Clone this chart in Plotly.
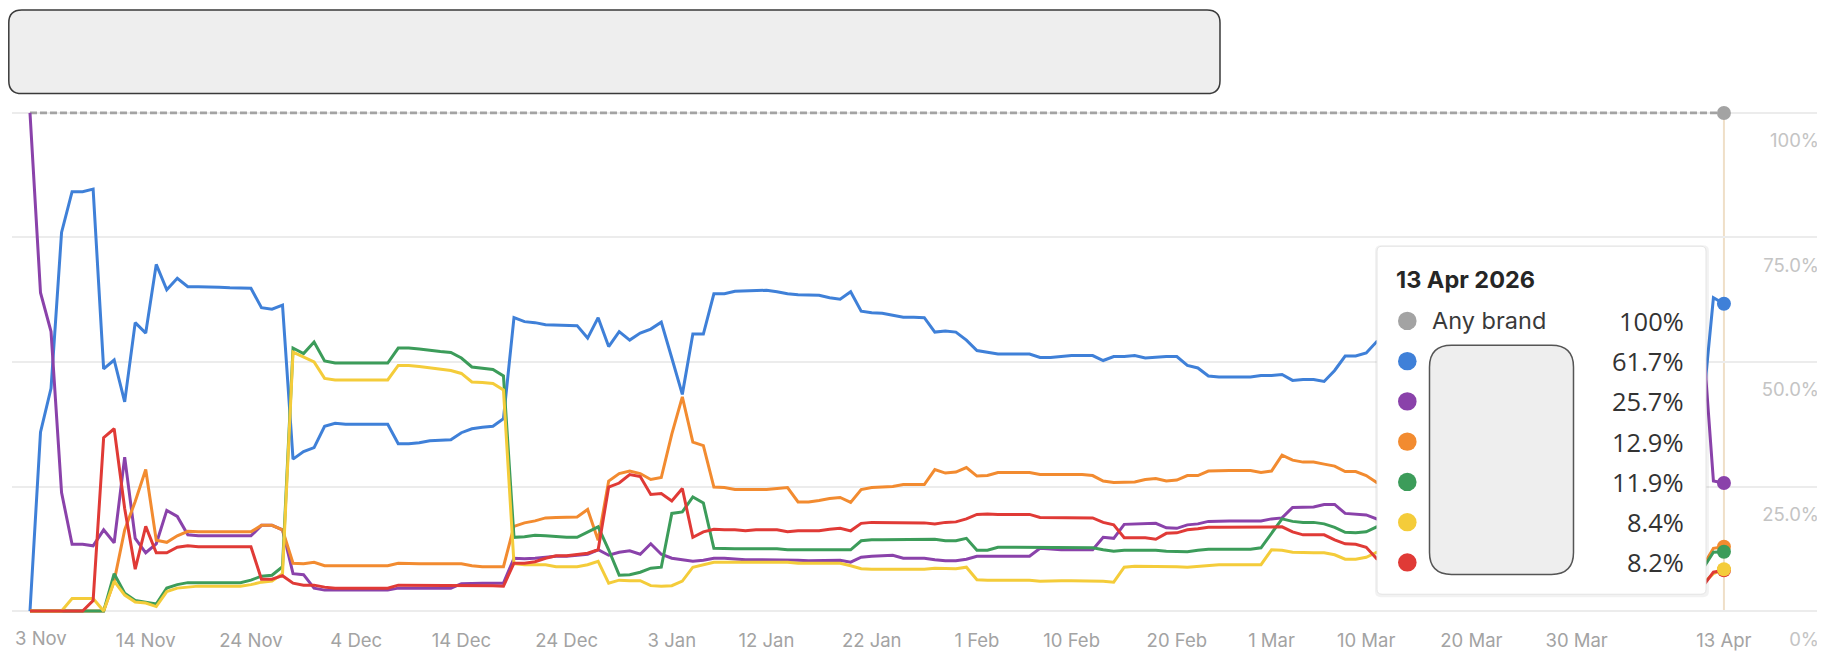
import plotly.graph_objects as go
import pandas as pd

# ---------------- data ----------------
START = "2025-11-03"
DAYS = list(range(0, 129)) + [135, 145, 155, 159, 160, 161]

BLUE = [0, 35.9, 44.7, 76.0, 84.2, 84.2, 84.7, 48.6, 50.4, 42.0,
        57.9, 55.8, 69.6, 64.5, 66.8, 65.1, 65.1, 65.1, 65.0, 64.9,
        64.8, 64.8, 60.9, 60.6, 61.4, 30.5, 32.0, 32.8, 37.1, 37.7,
        37.5, 37.5, 37.5, 37.5, 37.5, 33.6, 33.6, 33.8, 34.2, 34.3,
        34.4, 35.8, 36.6, 36.9, 37.1, 38.6, 58.9, 58.1, 57.9, 57.5,
        57.4, 57.3, 57.3, 54.8, 58.9, 53.1, 56.1, 54.4, 55.8, 56.6,
        58.0, 50.8, 43.5, 55.6, 55.6, 63.7, 63.7, 64.2, 64.3, 64.4,
        64.4, 64.1, 63.7, 63.5, 63.5, 63.4, 62.9, 62.6, 64.1, 60.2,
        59.9, 59.8, 59.4, 59.0, 59.0, 58.9, 56.0, 56.2, 56.0, 54.4,
        52.3, 52.0, 51.6, 51.6, 51.6, 51.6, 50.9, 50.9, 51.1, 51.3,
        51.3, 51.3, 50.3, 51.1, 51.1, 51.3, 50.8, 51.0, 51.1, 51.1,
        49.3, 48.8, 47.2, 47.0, 47.0, 47.0, 47.0, 47.3, 47.3, 47.5,
        46.3, 46.5, 46.5, 46.1, 48.3, 51.2, 51.2, 51.8, 54.1,
        56.0, 57.0, 55.0, 41.0, 62.9, 61.7]

PURPLE = [100, 63.9, 56.1, 23.8, 13.4, 13.4, 13.1, 16.3, 13.7, 30.9,
          14.6, 11.7, 13.5, 20.2, 19.0, 15.3, 15.1, 15.1, 15.1, 15.1,
          15.1, 15.1, 17.2, 17.2, 16.3, 7.5, 7.3, 4.6, 4.2, 4.2,
          4.2, 4.2, 4.2, 4.2, 4.2, 4.6, 4.6, 4.6, 4.6, 4.6,
          4.6, 5.5, 5.6, 5.6, 5.6, 5.6, 10.6, 10.5, 10.6, 10.8,
          11.0, 11.0, 11.2, 11.4, 12.3, 11.2, 11.8, 12.1, 11.4, 13.5,
          11.4, 10.6, 10.3, 10.0, 10.2, 10.6, 10.6, 10.4, 10.3, 10.3,
          10.3, 10.3, 10.3, 10.2, 10.1, 10.1, 10.1, 10.2, 9.8, 10.8,
          11.0, 11.1, 11.2, 10.6, 10.6, 10.6, 10.3, 10.1, 10.1, 10.4,
          11.0, 11.0, 11.0, 11.0, 11.0, 11.0, 12.6, 12.4, 12.3, 12.3,
          12.3, 12.3, 14.8, 14.6, 17.4, 17.5, 17.6, 17.6, 16.7, 16.6,
          17.3, 17.5, 18.0, 18.1, 18.1, 18.1, 18.1, 18.1, 18.5, 18.7,
          20.8, 20.8, 20.9, 21.4, 21.4, 19.6, 19.5, 19.3, 18.5,
          19.0, 20.0, 22.0, 55.0, 26.1, 25.7]

ORANGE = [0, 0, 0, 0, 0, 0, 0, 0, 6.0, 16.3,
          22.0, 28.4, 14.2, 13.8, 15.1, 16.0, 15.9, 15.9, 15.9, 15.9,
          15.9, 15.9, 17.2, 17.2, 16.3, 9.6, 9.5, 9.8, 9.1, 9.1,
          9.1, 9.1, 9.1, 9.1, 9.1, 9.6, 9.5, 9.5, 9.5, 9.5,
          9.5, 9.5, 9.1, 8.9, 8.9, 8.9, 17.0, 17.7, 18.1, 18.7,
          18.8, 18.8, 18.9, 20.4, 14.2, 26.1, 27.6, 28.1, 27.6, 26.4,
          26.8, 35.5, 43.0, 33.9, 33.2, 24.9, 24.8, 24.4, 24.4, 24.4,
          24.4, 24.6, 24.8, 21.9, 21.9, 22.2, 22.6, 22.8, 21.8, 24.4,
          24.8, 24.9, 25.0, 25.4, 25.4, 25.4, 28.4, 27.7, 27.9, 28.8,
          27.1, 27.2, 27.8, 27.8, 27.8, 27.8, 27.4, 27.4, 27.4, 27.4,
          27.4, 27.2, 26.1, 25.8, 25.8, 25.9, 26.4, 26.6, 26.1, 26.3,
          27.2, 27.2, 28.1, 28.2, 28.2, 28.2, 28.2, 27.8, 28.1, 31.3,
          30.3, 29.9, 29.9, 29.5, 29.1, 28.0, 28.0, 27.2, 25.8,
          24.0, 22.0, 18.0, 9.0, 12.6, 12.9]

GREEN = [0, 0, 0, 0, 0, 0, 0, 0, 7.5, 3.6,
         2.1, 1.8, 1.4, 4.6, 5.3, 5.7, 5.7, 5.7, 5.7, 5.7,
         5.7, 6.2, 7.0, 7.2, 8.9, 52.8, 51.7, 54.0, 50.2, 49.8,
         49.8, 49.8, 49.8, 49.8, 49.8, 52.8, 52.8, 52.6, 52.3, 52.1,
         51.9, 50.8, 49.0, 48.8, 48.5, 47.2, 14.8, 14.9, 15.2, 15.1,
         14.9, 14.8, 14.8, 15.9, 16.9, 12.3, 7.2, 7.3, 7.8, 8.6,
         8.8, 19.6, 19.9, 22.9, 21.7, 12.6, 12.5, 12.5, 12.5, 12.5,
         12.5, 12.5, 12.3, 12.3, 12.3, 12.3, 12.3, 12.3, 12.3, 14.1,
         14.3, 14.3, 14.3, 14.3, 14.3, 14.3, 14.4, 14.1, 14.1, 14.6,
         12.2, 12.2, 12.8, 12.8, 12.8, 12.8, 12.8, 12.7, 12.7, 12.7,
         12.7, 12.7, 12.3, 12.0, 12.2, 12.2, 12.2, 12.2, 12.0, 12.0,
         11.9, 12.2, 12.4, 12.4, 12.4, 12.4, 12.4, 12.7, 15.5, 18.5,
         18.0, 17.8, 17.8, 17.5, 16.8, 15.8, 15.7, 15.9, 16.9,
         15.0, 14.0, 12.0, 8.5, 11.8, 11.9]

YELLOW = [0, 0, 0, 0, 2.5, 2.5, 2.5, 0, 6.0, 3.2,
          1.8, 1.6, 0.9, 3.9, 4.6, 4.8, 5.0, 5.0, 5.0, 5.0,
          5.0, 5.3, 5.8, 6.0, 7.5, 52.0, 51.0, 50.0, 46.7, 46.4,
          46.4, 46.4, 46.4, 46.4, 46.4, 49.3, 49.3, 49.1, 48.8, 48.5,
          48.3, 47.7, 46.0, 45.9, 45.7, 44.4, 9.5, 9.3, 9.3, 9.3,
          8.9, 8.9, 8.9, 9.3, 10.0, 5.6, 6.2, 6.1, 6.1, 5.1,
          5.0, 5.1, 6.0, 8.8, 9.3, 9.8, 9.8, 9.8, 9.8, 9.8,
          9.8, 9.8, 9.8, 9.6, 9.6, 9.6, 9.6, 9.6, 9.1, 8.5,
          8.4, 8.4, 8.4, 8.4, 8.4, 8.4, 8.6, 8.5, 8.5, 8.8,
          6.3, 6.2, 6.2, 6.2, 6.2, 6.2, 6.0, 6.1, 6.1, 6.1,
          6.1, 6.1, 6.0, 5.8, 8.8, 9.0, 9.0, 9.0, 9.0, 8.9,
          8.8, 9.0, 9.2, 9.3, 9.3, 9.3, 9.3, 9.3, 12.3, 12.2,
          11.8, 11.7, 11.7, 11.7, 11.3, 10.4, 10.4, 10.8, 11.8,
          10.0, 9.5, 8.0, 5.5, 7.5, 8.4]

RED = [0, 0, 0, 0, 0, 0, 2.1, 34.8, 36.6, 20.6,
       8.4, 17.0, 11.7, 11.7, 12.8, 13.1, 12.9, 12.9, 12.9, 12.9,
       12.9, 12.9, 6.4, 6.4, 7.1, 5.6, 5.2, 5.2, 4.8, 4.6,
       4.6, 4.6, 4.6, 4.6, 4.6, 5.2, 5.2, 5.2, 5.2, 5.2,
       5.2, 5.2, 5.1, 5.1, 5.1, 5.0, 9.6, 9.6, 9.9, 10.6,
       11.1, 11.1, 11.3, 11.6, 12.3, 24.9, 25.7, 27.4, 27.0, 23.4,
       23.6, 22.1, 24.6, 14.8, 15.9, 16.4, 16.3, 16.3, 16.1, 16.3,
       16.3, 16.3, 15.9, 16.1, 16.1, 16.1, 16.4, 16.6, 16.1, 17.6,
       17.8, 17.8, 17.7, 17.7, 17.7, 17.7, 17.5, 17.8, 17.9, 18.5,
       19.4, 19.5, 19.4, 19.4, 19.4, 19.4, 18.8, 18.8, 18.8, 18.8,
       18.8, 18.7, 17.8, 17.3, 14.7, 14.7, 14.7, 14.4, 15.6, 15.7,
       16.3, 16.5, 16.8, 16.8, 16.8, 16.8, 16.8, 16.8, 16.9, 16.9,
       15.9, 15.3, 15.3, 15.3, 14.3, 13.5, 13.4, 12.8, 10.5,
       9.5, 9.0, 8.0, 5.0, 7.8, 8.2]

ANY_DAYS = [0, 161]
ANY_VALUES = [100, 100]

SERIES_NAMES = ["Brand 1", "Brand 2", "Brand 3", "Brand 4", "Brand 5", "Brand 6"]
SERIES_VALUES = [BLUE, PURPLE, ORANGE, GREEN, YELLOW, RED]
SERIES_COLORS = ["#3f80d8", "#8a42aa", "#f28b30", "#3c9c5a", "#f4cc3a", "#e03a36"]
MARKER_ORDER = [0, 1, 2, 3, 5, 4]   # yellow end dot drawn over red, as in the source
ANY_NAME = "Any brand"
ANY_COLOR = "#a3a3a3"

X_TICK_DATES = ["2025-11-03", "2025-11-14", "2025-11-24", "2025-12-04", "2025-12-14",
                "2025-12-24", "2026-01-03", "2026-01-12", "2026-01-22", "2026-02-01",
                "2026-02-10", "2026-02-20", "2026-03-01", "2026-03-10", "2026-03-20",
                "2026-03-30", "2026-04-13"]
X_TICK_LABELS = ["3 Nov", "14 Nov", "24 Nov", "4 Dec", "14 Dec", "24 Dec", "3 Jan",
                 "12 Jan", "22 Jan", "1 Feb", "10 Feb", "20 Feb", "1 Mar", "10 Mar",
                 "20 Mar", "30 Mar", "13 Apr"]
Y_TICKS = [0, 25, 50, 75, 100]
Y_TICK_LABELS = ["0%", "25.0%", "50.0%", "75.0%", "100%"]
TOOLTIP_TITLE = "13 Apr 2026"

# ---------------- geometry ----------------
# The page body has an 8px margin, so the figure is drawn 8px in from the window corner.
OFF = 8
PAGE_W, PAGE_H = 1825, 654
W, H = PAGE_W - OFF, PAGE_H - OFF
ML, MR, MT, MB = 12 - OFF, 3, 97.5 - OFF, 29
PW = W - ML - MR
PH = H - MT - MB
FONT = "Inter, Noto Sans, sans-serif"
NUM_FONT = "Open Sans, Inter, sans-serif"
XTICK_FONT = dict(family=FONT, size=18.5, color="#a3a3a3")


def px(x, y):
    """window pixel (from top-left of the window) -> paper coordinates"""
    return (x - OFF - ML) / PW, (H - MB - (y - OFF)) / PH


def rrect_path(x0, y0, x1, y1, r):
    def P(x, y):
        a, b = px(x, y)
        return f"{a:.6f},{b:.6f}"
    return (f"M{P(x0 + r, y0)} L{P(x1 - r, y0)} Q{P(x1, y0)} {P(x1, y0 + r)} "
            f"L{P(x1, y1 - r)} Q{P(x1, y1)} {P(x1 - r, y1)} "
            f"L{P(x0 + r, y1)} Q{P(x0, y1)} {P(x0, y1 - r)} "
            f"L{P(x0, y0 + r)} Q{P(x0, y0)} {P(x0 + r, y0)} Z")


start = pd.Timestamp(START)
dates = start + pd.to_timedelta(DAYS, unit="D")
any_dates = start + pd.to_timedelta(ANY_DAYS, unit="D")
last_date = dates[-1]

fig = go.Figure()

fig.add_trace(go.Scatter(x=any_dates, y=ANY_VALUES, mode="lines", name=ANY_NAME,
                         line=dict(color=ANY_COLOR, width=2.8, dash="7px,3px"),
                         hoverinfo="skip"))
for name, vals, col in zip(SERIES_NAMES, SERIES_VALUES, SERIES_COLORS):
    fig.add_trace(go.Scatter(x=dates, y=vals, mode="lines", name=name,
                             line=dict(color=col, width=3, shape="linear"),
                             hoverinfo="skip"))
# end markers
fig.add_trace(go.Scatter(x=[any_dates[-1]], y=[ANY_VALUES[-1]], mode="markers",
                         marker=dict(color=ANY_COLOR, size=14), hoverinfo="skip"))
for k in MARKER_ORDER:
    vals, col = SERIES_VALUES[k], SERIES_COLORS[k]
    fig.add_trace(go.Scatter(x=[last_date], y=[vals[-1]], mode="markers",
                             marker=dict(color=col, size=14), hoverinfo="skip"))

shapes = []
# crosshair
shapes.append(dict(type="line", xref="x", yref="y", x0=last_date, x1=last_date,
                   y0=0, y1=100, line=dict(color="#efdfc8", width=2), layer="below"))
# top redaction box (left edge starts at the figure edge)
shapes.append(dict(type="path", xref="paper", yref="paper",
                   path=rrect_path(OFF + 0.8, 8.8, 1220, 93, 13),
                   fillcolor="#eeeeee", line=dict(color="#3a3a3a", width=1.5), layer="above"))
# tooltip shadow + box
shapes.append(dict(type="path", xref="paper", yref="paper",
                   path=rrect_path(1375, 246, 1709, 601, 6),
                   fillcolor="rgba(0,0,0,0.05)", line=dict(width=0), layer="above"))
shapes.append(dict(type="path", xref="paper", yref="paper",
                   path=rrect_path(1377, 247, 1706, 598, 5),
                   fillcolor="#ffffff", line=dict(color="#e4e4e4", width=1), layer="above"))

annotations = []
# first x tick label: left-aligned to the plot edge (as in the source chart)
annotations.append(dict(xref="x", yref="paper", x=X_TICK_DATES[0], y=px(0, 642)[1],
                        text=X_TICK_LABELS[0], showarrow=False, xanchor="left",
                        yanchor="middle", xshift=-17.3, font=XTICK_FONT))
annotations.append(dict(xref="paper", yref="paper", x=px(1394, 0)[0], y=px(0, 281)[1],
                        text=f"<b>{TOOLTIP_TITLE}</b>", showarrow=False, xanchor="left",
                        yanchor="middle", font=dict(family=FONT, size=23.5, color="#262626")))

row_y0, row_dy = 322.3, 40.6
tooltip_rows = [(ANY_COLOR, ANY_NAME, f"{ANY_VALUES[-1]:.0f}%")]
for vals, col in zip(SERIES_VALUES, SERIES_COLORS):
    tooltip_rows.append((col, "", f"{vals[-1]:.1f}%"))

for i, (col, label, val) in enumerate(tooltip_rows):
    cy = row_y0 + i * row_dy
    cx, r = 1407.3, 9.3
    xa, ya = px(cx - r, cy + r)
    xb, yb = px(cx + r, cy - r)
    shapes.append(dict(type="circle", xref="paper", yref="paper", x0=xa, y0=ya, x1=xb, y1=yb,
                       fillcolor=col, line=dict(width=0), layer="above"))
    if label:
        annotations.append(dict(xref="paper", yref="paper", x=px(1430, 0)[0], y=px(0, cy)[1],
                                text=label, showarrow=False, xanchor="left", yanchor="middle",
                                font=dict(family=FONT, size=23.5, color="#3a3a3a")))
    annotations.append(dict(xref="paper", yref="paper", x=px(1686, 0)[0], y=px(0, cy)[1],
                            text=val, showarrow=False, xanchor="right", yanchor="middle",
                            font=dict(family=NUM_FONT, size=25.5, color="#333333")))

# tooltip redaction
shapes.append(dict(type="path", xref="paper", yref="paper",
                   path=rrect_path(1429.5, 347, 1573.5, 578, 22),
                   fillcolor="#eeeeee", line=dict(color="#555555", width=1.5), layer="above"))

x_left = start - pd.Timedelta(days=1.71)
x_right = start + pd.Timedelta(days=170.32)

tick_text = [""] + X_TICK_LABELS[1:]

fig.update_layout(
    width=W, height=H,
    margin=dict(l=ML, r=MR, t=MT, b=MB, pad=0),
    paper_bgcolor="white", plot_bgcolor="white",
    showlegend=False,
    font=dict(family=FONT),
    shapes=shapes, annotations=annotations,
    xaxis=dict(range=[x_left, x_right], tickmode="array", tickvals=X_TICK_DATES,
               ticktext=tick_text, showgrid=False, zeroline=False, showline=False,
               ticks="", ticklabelstandoff=6, tickfont=XTICK_FONT),
    yaxis=dict(range=[-2, 103], tickmode="array", tickvals=Y_TICKS, ticktext=Y_TICK_LABELS,
               side="right", ticklabelposition="inside", ticklabelshift=28,
               ticklabeloverflow="allow", showgrid=True, gridcolor="#ececec", gridwidth=1.5,
               zeroline=False, showline=False, ticks="",
               tickfont=dict(family=FONT, size=18.5, color="#c4c4c4")),
)

fig.write_html("out.html")
